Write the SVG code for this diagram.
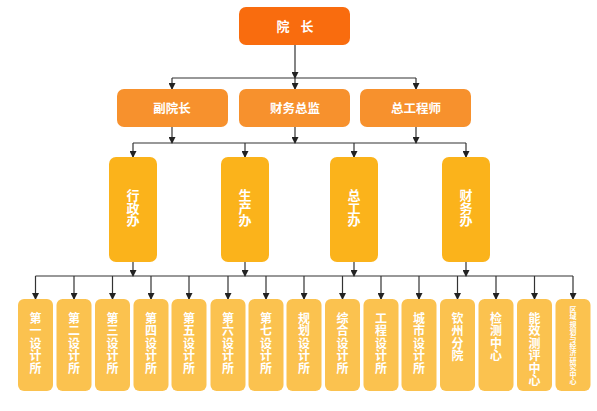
<svg xmlns="http://www.w3.org/2000/svg" width="597" height="411" viewBox="0 0 597 411">
<defs>
<marker id="arr" markerWidth="7" markerHeight="7" refX="6" refY="3.5" orient="auto" markerUnits="userSpaceOnUse">
<path d="M0,0 L7,3.5 L0,7 z" fill="#222"/>
</marker>
<style>
.ln{stroke:#333;stroke-width:1.2;fill:none}
.ar{stroke:#333;stroke-width:1.2;fill:none;marker-end:url(#arr)}
.t{font-family:"Noto Sans CJK SC","Noto Sans",sans-serif;font-weight:bold;fill:#fff;text-anchor:middle}
.v{font-family:"Noto Sans CJK SC","Noto Sans",sans-serif;font-weight:bold;fill:#fff;writing-mode:vertical-rl;text-orientation:upright;text-anchor:start}
.v3{font-size:13px;letter-spacing:-0.5px}
.v4{font-size:12px;letter-spacing:0.5px}
.v5{font-size:7px;letter-spacing:0.2px}
.l1{fill:#F96C0E}
.l2{fill:#F7912D}
.l3{fill:#FBB31B}
.l4{fill:#FBC24F}
</style>
</defs>
<rect width="597" height="411" fill="#fff"/>
<g id="connectors">
<line class="ar" x1="295" y1="45" x2="295" y2="78"/>
<line class="ln" x1="172" y1="78" x2="416" y2="78"/>
<line class="ar" x1="172" y1="78" x2="172" y2="89"/>
<line class="ar" x1="295" y1="78" x2="295" y2="89"/>
<line class="ar" x1="416" y1="78" x2="416" y2="89"/>
<line class="ar" x1="172" y1="127" x2="172" y2="143"/>
<line class="ar" x1="295" y1="127" x2="295" y2="143"/>
<line class="ar" x1="416" y1="127" x2="416" y2="143"/>
<line class="ln" x1="133" y1="143" x2="466" y2="143"/>
<line class="ar" x1="133" y1="143" x2="133" y2="157"/>
<line class="ar" x1="245" y1="143" x2="245" y2="157"/>
<line class="ar" x1="354" y1="143" x2="354" y2="157"/>
<line class="ar" x1="466" y1="143" x2="466" y2="157"/>
<line class="ar" x1="133" y1="262" x2="133" y2="276"/>
<line class="ar" x1="245" y1="262" x2="245" y2="276"/>
<line class="ar" x1="354" y1="262" x2="354" y2="276"/>
<line class="ar" x1="466" y1="262" x2="466" y2="276"/>
<line class="ln" x1="35.5" y1="276" x2="573" y2="276"/>
<line class="ar" x1="35.5" y1="276" x2="35.5" y2="299"/>
<line class="ar" x1="74" y1="276" x2="74" y2="299"/>
<line class="ar" x1="112.5" y1="276" x2="112.5" y2="299"/>
<line class="ar" x1="151" y1="276" x2="151" y2="299"/>
<line class="ar" x1="189" y1="276" x2="189" y2="299"/>
<line class="ar" x1="228" y1="276" x2="228" y2="299"/>
<line class="ar" x1="266" y1="276" x2="266" y2="299"/>
<line class="ar" x1="304" y1="276" x2="304" y2="299"/>
<line class="ar" x1="342.5" y1="276" x2="342.5" y2="299"/>
<line class="ar" x1="381" y1="276" x2="381" y2="299"/>
<line class="ar" x1="419" y1="276" x2="419" y2="299"/>
<line class="ar" x1="457.5" y1="276" x2="457.5" y2="299"/>
<line class="ar" x1="496" y1="276" x2="496" y2="299"/>
<line class="ar" x1="534.5" y1="276" x2="534.5" y2="299"/>
<line class="ar" x1="573" y1="276" x2="573" y2="299"/>
</g>
<g id="n-yuanzhang"><rect class="l1" x="239" y="7" width="111" height="38" rx="7"/><text class="t" x="283 307" y="31" font-size="13">院长</text></g>
<g id="n-fuyuanzhang"><rect class="l2" x="117" y="89" width="111" height="38" rx="7"/><text class="t" x="172" y="113" font-size="12.5">副院长</text></g>
<g id="n-caiwuzongjian"><rect class="l2" x="239" y="89" width="111" height="38" rx="7"/><text class="t" x="295" y="113" font-size="12.5">财务总监</text></g>
<g id="n-zonggongchengshi"><rect class="l2" x="360" y="89" width="111" height="38" rx="7"/><text class="t" x="416" y="113" font-size="12.5">总工程师</text></g>
<g id="n-xingzheng"><rect class="l3" x="109" y="157" width="48" height="105" rx="7"/><text class="v v3" x="133" y="189">行政办</text></g>
<g id="n-shengchan"><rect class="l3" x="221" y="157" width="48" height="105" rx="7"/><text class="v v3" x="245" y="189">生产办</text></g>
<g id="n-zonggong"><rect class="l3" x="330" y="157" width="48" height="105" rx="7"/><text class="v v3" x="354" y="189">总工办</text></g>
<g id="n-caiwu"><rect class="l3" x="442" y="157" width="48" height="105" rx="7"/><text class="v v3" x="466" y="189">财务办</text></g>
<g id="n-s1"><rect class="l4" x="18" y="299" width="35" height="92" rx="6"/><text class="v v4" x="35.5" y="312">第一设计所</text></g>
<g id="n-s2"><rect class="l4" x="56.5" y="299" width="35" height="92" rx="6"/><text class="v v4" x="74" y="312">第二设计所</text></g>
<g id="n-s3"><rect class="l4" x="95" y="299" width="35" height="92" rx="6"/><text class="v v4" x="112.5" y="312">第三设计所</text></g>
<g id="n-s4"><rect class="l4" x="133.5" y="299" width="35" height="92" rx="6"/><text class="v v4" x="151" y="312">第四设计所</text></g>
<g id="n-s5"><rect class="l4" x="171.5" y="299" width="35" height="92" rx="6"/><text class="v v4" x="189" y="312">第五设计所</text></g>
<g id="n-s6"><rect class="l4" x="210.5" y="299" width="35" height="92" rx="6"/><text class="v v4" x="228" y="312">第六设计所</text></g>
<g id="n-s7"><rect class="l4" x="248.5" y="299" width="35" height="92" rx="6"/><text class="v v4" x="266" y="312">第七设计所</text></g>
<g id="n-guihua"><rect class="l4" x="286.5" y="299" width="35" height="92" rx="6"/><text class="v v4" x="304" y="312">规划设计所</text></g>
<g id="n-zonghe"><rect class="l4" x="325" y="299" width="35" height="92" rx="6"/><text class="v v4" x="342.5" y="312">综合设计所</text></g>
<g id="n-gongcheng"><rect class="l4" x="363.5" y="299" width="35" height="92" rx="6"/><text class="v v4" x="381" y="312">工程设计所</text></g>
<g id="n-chengshi"><rect class="l4" x="401.5" y="299" width="35" height="92" rx="6"/><text class="v v4" x="419" y="312">城市设计所</text></g>
<g id="n-qinzhou"><rect class="l4" x="440" y="299" width="35" height="92" rx="6"/><text class="v v4" x="457.5" y="312">钦州分院</text></g>
<g id="n-jiance"><rect class="l4" x="478.5" y="299" width="35" height="92" rx="6"/><text class="v v4" x="496" y="312">检测中心</text></g>
<g id="n-nengxiao"><rect class="l4" x="517" y="299" width="35" height="92" rx="6"/><text class="v v4" x="534.5" y="312">能效测评中心</text></g>
<g id="n-yanjiu"><rect class="l4" x="555.5" y="299" width="35" height="92" rx="6"/><text class="v v5" x="573" y="306">区域规划与经济研究中心</text></g>
</svg>
